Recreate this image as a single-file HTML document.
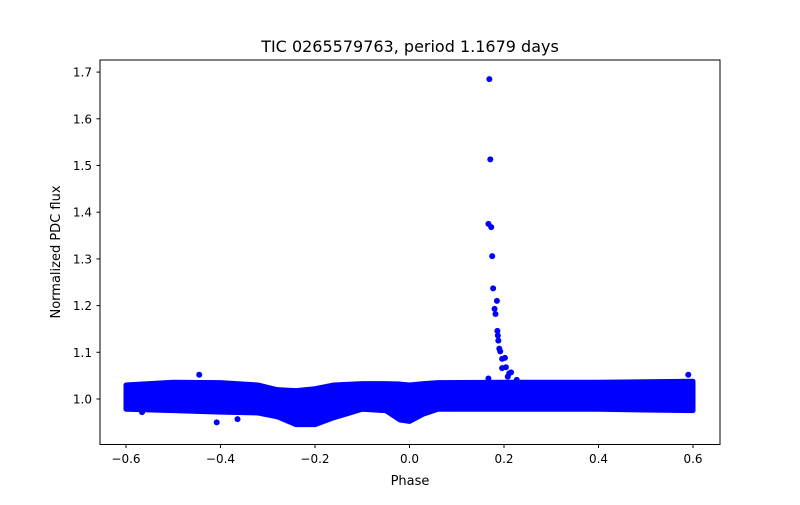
<!DOCTYPE html>
<html><head><meta charset="utf-8"><style>
body{margin:0;background:#fff;font-family:"Liberation Sans","DejaVu Sans",sans-serif}
svg text{font-family:"DejaVu Sans","Liberation Sans",sans-serif;fill:#000}
</style></head><body>
<svg id="chart" width="800" height="500">
<rect width="800" height="500" fill="#fff"/>
<g id="plot"></g>
<rect x="100" y="60" width="620" height="384.5" fill="none" stroke="#000" stroke-width="1"/>
<g id="axes"></g>
<text x="410" y="52" text-anchor="middle" font-size="16">TIC 0265579763, period 1.1679 days</text>
<text x="410" y="485" text-anchor="middle" font-size="13">Phase</text>
<text transform="translate(60,252) rotate(-90)" text-anchor="middle" font-size="13">Normalized PDC flux</text>
</svg>
<script>
const bandPhase=[-0.6,-0.5,-0.4,-0.32,-0.28,-0.24,-0.2,-0.16,-0.1,-0.05,-0.02,0.0,0.03,0.06,0.2,0.4,0.6];
const bandUpper=[1.030,1.036,1.035,1.030,1.020,1.018,1.022,1.030,1.033,1.033,1.032,1.030,1.033,1.035,1.036,1.036,1.038];
const bandLower=[0.978,0.975,0.972,0.970,0.962,0.945,0.945,0.960,0.978,0.975,0.955,0.952,0.968,0.978,0.978,0.978,0.975];
const ptPhase=[0.169,0.171,0.167,0.173,0.175,0.177,0.185,0.180,0.182,0.186,0.187,0.188,0.190,0.192,0.196,0.202,0.196,0.204,0.211,0.215,0.208,0.167,0.227,-0.408,-0.566,-0.364,-0.445,0.59];
const ptFlux=[1.685,1.513,1.375,1.368,1.306,1.237,1.21,1.193,1.182,1.146,1.136,1.125,1.108,1.102,1.086,1.088,1.066,1.068,1.055,1.057,1.048,1.044,1.041,0.950,0.972,0.957,1.052,1.052];
const xTicks=[-0.6,-0.4,-0.2,0.0,0.2,0.4,0.6];
const xTickLabels=["\u22120.6","\u22120.4","\u22120.2","0.0","0.2","0.4","0.6"];
const yTicks=[1.0,1.1,1.2,1.3,1.4,1.5,1.6,1.7];
const yTickLabels=["1.0","1.1","1.2","1.3","1.4","1.5","1.6","1.7"];
const NS="http://www.w3.org/2000/svg";
const X=p=>409.5+p*472.5;
const Y=f=>399-(f-1)*467;
const plot=document.getElementById('plot'),axes=document.getElementById('axes');
function mk(t,a,parent){const e=document.createElementNS(NS,t);for(const k in a)e.setAttribute(k,a[k]);parent.appendChild(e);return e;}
let d="";
bandPhase.forEach((p,i)=>{d+=(i?"L":"M")+X(p)+","+Y(bandUpper[i]);});
for(let i=bandPhase.length-1;i>=0;i--)d+="L"+X(bandPhase[i])+","+Y(bandLower[i]);
d+="Z";
const band=mk('path',{d:d,fill:'#0000ff',stroke:'#0000ff','stroke-width':5,'stroke-linejoin':'round'},plot);


ptPhase.forEach((p,i)=>{
 const c=mk('circle',{cx:X(p),cy:Y(ptFlux[i]),r:3,fill:'#0000ff'},plot);
 
 
});
xTicks.forEach((t,i)=>{
 const x=X(t);
 mk('line',{x1:x,x2:x,y1:444.5,y2:448,stroke:'#000'},axes);
 const tx=mk('text',{x:x,y:463,'text-anchor':'middle','font-size':'12'},axes);
 tx.textContent=xTickLabels[i];
 
 
});
yTicks.forEach((t,i)=>{
 const y=Y(t);
 mk('line',{x1:96.5,x2:100,y1:y,y2:y,stroke:'#000'},axes);
 const tx=mk('text',{x:92,y:y+4.5,'text-anchor':'end','font-size':'12'},axes);
 tx.textContent=yTickLabels[i];
 
 
});
</script>
</body></html>
